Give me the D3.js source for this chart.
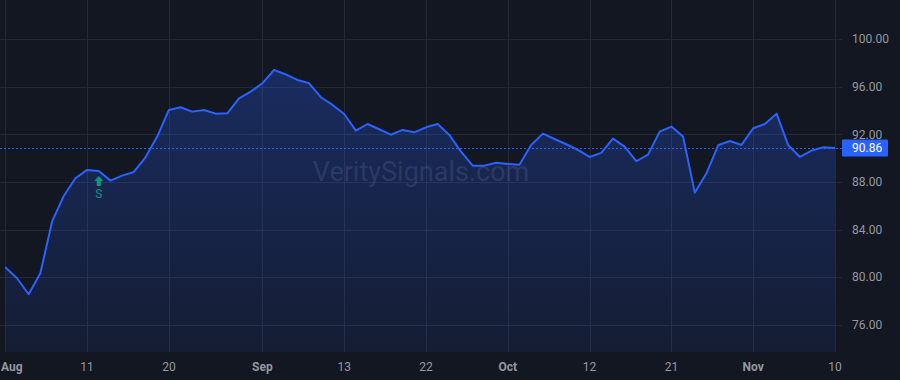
<!DOCTYPE html>
<html>
<head>
<meta charset="utf-8">
<script src="https://cdn.jsdelivr.net/npm/d3@7"></script>
<style>
  html, body { margin: 0; padding: 0; background: #131722; }
  svg { display: block; }
</style>
</head>
<body>
<svg id="chart" width="900" height="380"></svg>
<script>
// daily closes, one per trading bar
const closes = [
  80.84, 79.92, 78.57, 80.34, 84.67, 86.83, 88.32, 89.02, 88.93, 88.12,
  88.54, 88.85, 90.08, 91.82, 94.06, 94.29, 93.92, 94.06, 93.75, 93.78,
  95.04, 95.60, 96.30, 97.42, 97.05, 96.58, 96.30, 95.13, 94.48, 93.72,
  92.32, 92.88, 92.44, 91.98, 92.38, 92.18, 92.60, 92.88, 91.96, 90.55,
  89.38, 89.38, 89.63, 89.52, 89.46, 91.12, 92.07, 91.62, 91.18, 90.70,
  90.11, 90.45, 91.65, 90.98, 89.75, 90.31, 92.24, 92.66, 91.82, 87.11,
  88.74, 91.09, 91.45, 91.12, 92.52, 92.88, 93.75, 91.09, 90.11, 90.64,
  90.92, 90.86
];

// x tick labels sit on these bar indexes
const tickBars = [0, 7, 14, 22, 29, 36, 43, 50, 57, 64, 71];
const tickLabels = ["Aug", "11", "20", "Sep", "13", "22", "Oct", "12", "21", "Nov", "10"];
const monthLabels = ["Aug", "Sep", "Oct", "Nov"];

const priceTicks = [76, 80, 84, 88, 92, 96, 100];

// signal markers
const signalBars = [8];
const signalText = ["S"];

const lastPrice = closes[closes.length - 1];

var width = 900, height = 380;
var plotRight = 842, plotBottom = 352;

var svg = d3.select("#chart");

var x = d3.scaleLinear().domain([0, closes.length - 1]).range([5.3, 835]);
var y = d3.scaleLinear().domain([73.72, 103.3]).range([plotBottom, 0]);

// background
svg.append("rect").attr("width", width).attr("height", height).attr("fill", "#131722");

// gradient for the area
var defs = svg.append("defs");
var grad = defs.append("linearGradient")
  .attr("id", "areaGrad")
  .attr("gradientUnits", "userSpaceOnUse")
  .attr("x1", 0).attr("x2", 0)
  .attr("y1", y(d3.max(closes))).attr("y2", plotBottom);
grad.append("stop").attr("offset", "0%").attr("stop-color", "#2962ff").attr("stop-opacity", 0.28);
grad.append("stop").attr("offset", "100%").attr("stop-color", "#2962ff").attr("stop-opacity", 0.08);

// grid
var grid = svg.append("g");
grid.selectAll(".hgrid")
  .data(priceTicks)
  .enter()
  .append("line")
  .attr("x1", 0).attr("x2", plotRight)
  .attr("y1", (d) => Math.round(y(d)) + 0.5)
  .attr("y2", (d) => Math.round(y(d)) + 0.5)
  .attr("stroke", "#252935");
grid.selectAll(".vgrid")
  .data(tickBars)
  .enter()
  .append("line")
  .attr("y1", 0).attr("y2", plotBottom)
  .attr("x1", (d) => Math.round(x(d)) + 0.5)
  .attr("x2", (d) => Math.round(x(d)) + 0.5)
  .attr("stroke", "#252935");

// watermark
svg.append("text")
  .attr("x", 421).attr("y", 181)
  .attr("text-anchor", "middle")
  .attr("font-family", "Roboto, 'Liberation Sans', sans-serif")
  .attr("font-size", 27)
  .attr("fill", "rgba(178,181,190,0.17)")
  .text("VeritySignals.com");

// area + line
var area = d3.area()
  .x((d, i) => x(i))
  .y0(plotBottom)
  .y1((d) => y(d));
svg.append("path").datum(closes).attr("d", area).attr("fill", "url(#areaGrad)");

var line = d3.line()
  .x((d, i) => x(i))
  .y((d) => y(d));
svg.append("path").datum(closes)
  .attr("d", line)
  .attr("fill", "none")
  .attr("stroke", "#2962ff")
  .attr("stroke-width", 2)
  .attr("stroke-linejoin", "round");

// last price dotted line
svg.append("line")
  .attr("x1", 0).attr("x2", plotRight)
  .attr("y1", Math.round(y(lastPrice)) + 0.5)
  .attr("y2", Math.round(y(lastPrice)) + 0.5)
  .attr("stroke", "#2962ff")
  .attr("stroke-width", 1)
  .attr("stroke-dasharray", "2,2");

// signal markers
signalBars.forEach(function (b, i) {
  var cx = x(b);
  var top = y(closes[b]) + 5;
  var g = svg.append("g").attr("fill", "#089981");
  g.append("path")
    .attr("d", "M" + cx + "," + top +
      " L" + (cx + 4.5) + "," + (top + 5) +
      " L" + (cx + 2) + "," + (top + 5) +
      " L" + (cx + 2) + "," + (top + 10) +
      " L" + (cx - 2) + "," + (top + 10) +
      " L" + (cx - 2) + "," + (top + 5) +
      " L" + (cx - 4.5) + "," + (top + 5) + " Z");
  g.append("text")
    .attr("x", cx).attr("y", top + 22)
    .attr("text-anchor", "middle")
    .attr("font-family", "Roboto, 'Liberation Sans', sans-serif")
    .attr("font-size", 12)
    .text(signalText[i]);
});

// price axis
var yAxis = svg.append("g");
yAxis.selectAll("text")
  .data(priceTicks)
  .enter()
  .append("text")
  .attr("x", 852)
  .attr("y", (d) => y(d))
  .attr("dy", "0.35em")
  .attr("font-family", "Roboto, 'Liberation Sans', sans-serif")
  .attr("font-size", 12)
  .attr("fill", "#9598a1")
  .text((d) => d.toFixed(2));

// last price label
var ly = y(lastPrice);
svg.append("rect")
  .attr("x", 842).attr("y", ly - 8.5)
  .attr("width", 46).attr("height", 17)
  .attr("rx", 1)
  .attr("fill", "#2962ff");
svg.append("text")
  .attr("x", 852).attr("y", ly)
  .attr("dy", "0.35em")
  .attr("font-family", "Roboto, 'Liberation Sans', sans-serif")
  .attr("font-size", 12)
  .attr("fill", "#ffffff")
  .text(lastPrice.toFixed(2));

// time axis, first label is pushed inside the left edge
var xAxis = svg.append("g");
xAxis.selectAll("text")
  .data(tickBars)
  .enter()
  .append("text")
  .attr("x", (d, i) => i == 0 ? 1 : x(d))
  .attr("y", 367)
  .attr("dy", "0.35em")
  .attr("text-anchor", (d, i) => i == 0 ? "start" : "middle")
  .attr("font-family", "Roboto, 'Liberation Sans', sans-serif")
  .attr("font-size", 12)
  .attr("font-weight", (d, i) => monthLabels.includes(tickLabels[i]) ? "bold" : "normal")
  .attr("fill", "#9598a1")
  .text((d, i) => tickLabels[i]);
</script>
</body>
</html>
